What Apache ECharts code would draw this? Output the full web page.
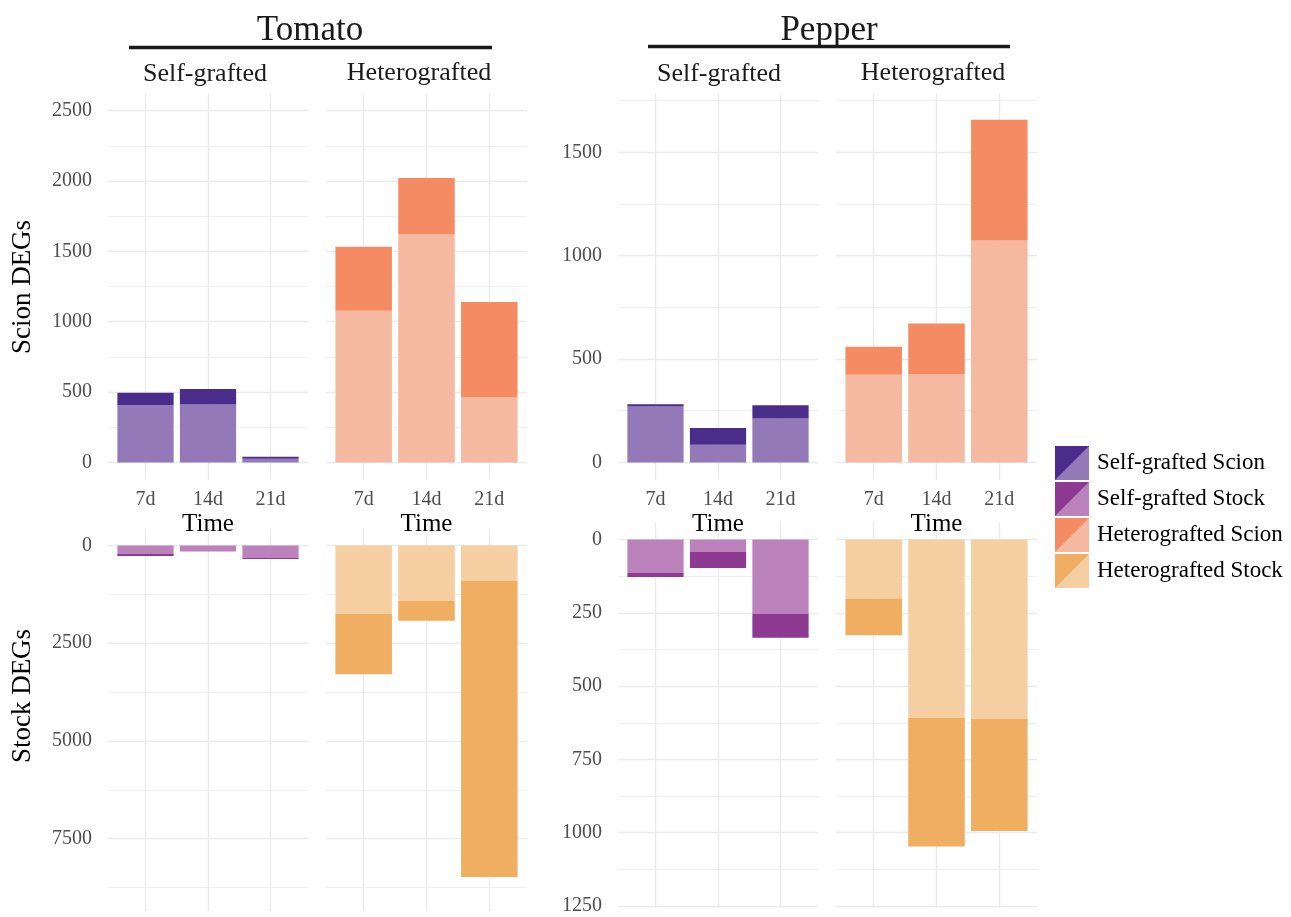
<!DOCTYPE html>
<html>
<head>
<meta charset="utf-8">
<script src="https://cdn.jsdelivr.net/npm/echarts@6/dist/echarts.min.js"></script>
<style>
  html, body { margin: 0; padding: 0; background: #ffffff; }
  #chart { width: 1291px; height: 917px; }
</style>
</head>
<body>
<div id="chart"></div>
<script>
// Sampling times and their positions on the x scale
const timePoints = ['7d', '14d', '21d'];
const timePositions = [1, 2, 3];

// Tomato scion DEGs (pale + deep segments)
const tomatoSelfScionPale = [407, 412, 26];
const tomatoSelfScionDeep = [88, 109, 14];
const tomatoHeteroScionPale = [1077, 1623, 464];
const tomatoHeteroScionDeep = [455, 398, 675];

// Tomato stock DEGs
const tomatoSelfStockPale = [222, 153, 315];
const tomatoSelfStockDeep = [51, 0, 34];
const tomatoHeteroStockPale = [1756, 1423, 903];
const tomatoHeteroStockDeep = [1542, 503, 7575];

// Pepper scion DEGs
const pepperSelfScionPale = [270, 86, 213];
const pepperSelfScionDeep = [11, 80, 63];
const pepperHeteroScionPale = [424, 428, 1073];
const pepperHeteroScionDeep = [136, 244, 585];

// Pepper stock DEGs
const pepperSelfStockPale = [114, 42, 253];
const pepperSelfStockDeep = [14, 55, 82];
const pepperHeteroStockPale = [201, 609, 611];
const pepperHeteroStockDeep = [125, 438, 383];

// Tick labels and minor grid positions
const tomatoScionTicks = [0, 500, 1000, 1500, 2000, 2500];
const tomatoScionMinor = [250, 750, 1250, 1750, 2250];
const tomatoStockTicks = [0, 2500, 5000, 7500];
const tomatoStockMinor = [1250, 3750, 6250, 8750];
const pepperScionTicks = [0, 500, 1000, 1500];
const pepperScionMinor = [250, 750, 1250, 1750];
const pepperStockTicks = [0, 250, 500, 750, 1000, 1250];
const pepperStockMinor = [125, 375, 625, 875, 1125];

const groupNames = ['Self-grafted Scion', 'Self-grafted Stock', 'Heterografted Scion', 'Heterografted Stock'];
const palette = {
  'Self-grafted Scion':  { deep: '#4a2c8a', pale: '#9379b8' },
  'Self-grafted Stock':  { deep: '#8e3a93', pale: '#bc82bb' },
  'Heterografted Scion': { deep: '#f48b63', pale: '#f5b8a0' },
  'Heterografted Stock': { deep: '#f0ae62', pale: '#f5cfa1' }
};

const serif = "'Liberation Serif', 'Times New Roman', serif";
const gridColor = '#ebebeb';
const tickColor = '#4d4d4d';

// Panel layout: [left, top, width, height]; x range 0.4..3.6 around the three time points
const panels = [
  { box: [108, 93, 200, 387], range: [-125, 2625], major: tomatoScionTicks, minor: tomatoScionMinor, labels: true,  inverse: false, time: true,  group: 'Self-grafted Scion',  pale: tomatoSelfScionPale,  deep: tomatoSelfScionDeep },
  { box: [326, 93, 201, 387], range: [-125, 2625], major: tomatoScionTicks, minor: tomatoScionMinor, labels: false, inverse: false, time: true,  group: 'Heterografted Scion', pale: tomatoHeteroScionPale, deep: tomatoHeteroScionDeep },
  { box: [618, 93, 200, 387], range: [-85, 1787],  major: pepperScionTicks, minor: pepperScionMinor, labels: true,  inverse: false, time: true,  group: 'Self-grafted Scion',  pale: pepperSelfScionPale,  deep: pepperSelfScionDeep },
  { box: [836, 93, 201, 387], range: [-85, 1787],  major: pepperScionTicks, minor: pepperScionMinor, labels: false, inverse: false, time: true,  group: 'Heterografted Scion', pale: pepperHeteroScionPale, deep: pepperHeteroScionDeep },
  { box: [108, 528, 200, 383], range: [-445, 9350], major: tomatoStockTicks, minor: tomatoStockMinor, labels: true,  inverse: true, time: false, group: 'Self-grafted Stock',  pale: tomatoSelfStockPale,  deep: tomatoSelfStockDeep },
  { box: [326, 528, 201, 383], range: [-445, 9350], major: tomatoStockTicks, minor: tomatoStockMinor, labels: false, inverse: true, time: false, group: 'Heterografted Stock', pale: tomatoHeteroStockPale, deep: tomatoHeteroStockDeep },
  { box: [618, 522, 200, 386], range: [-60, 1257],  major: pepperStockTicks, minor: pepperStockMinor, labels: true,  inverse: true, time: false, group: 'Self-grafted Stock',  pale: pepperSelfStockPale,  deep: pepperSelfStockDeep },
  { box: [836, 522, 201, 386], range: [-60, 1257],  major: pepperStockTicks, minor: pepperStockMinor, labels: false, inverse: true, time: false, group: 'Heterografted Stock', pale: pepperHeteroStockPale, deep: pepperHeteroStockDeep }
];

const XMIN = 0.4, XMAX = 3.6;
const grid = [], xAxis = [], yAxis = [], series = [];

panels.forEach((p, i) => {
  const [left, top, width, height] = p.box;
  const unit = width / (XMAX - XMIN);

  // background grid: gridlines, tick labels, axis names
  const gi = grid.length;
  grid.push({ left, top, width, height });
  xAxis.push({
    type: 'value', gridIndex: gi, min: XMIN, max: XMAX,
    axisLine: { show: false },
    axisTick: { show: false, customValues: timePositions },
    axisLabel: {
      show: p.time, customValues: timePositions, margin: 10,
      color: tickColor, fontSize: 20, fontFamily: serif,
      formatter: v => timePoints[timePositions.indexOf(v)]
    },
    splitLine: { show: true, lineStyle: { color: gridColor, width: 1.4 } },
    name: p.time ? 'Time' : '', nameLocation: 'middle', nameGap: 32,
    nameTextStyle: { color: '#000', fontSize: 25, fontFamily: serif }
  });
  yAxis.push({
    type: 'value', gridIndex: gi, min: p.range[0], max: p.range[1], inverse: p.inverse,
    axisLine: { show: false },
    axisTick: { show: false, customValues: p.major },
    axisLabel: { show: p.labels, customValues: p.major, margin: 16, color: tickColor, fontSize: 20, fontFamily: serif, formatter: v => String(v) },
    splitLine: { show: true, lineStyle: { color: gridColor, width: 1.4 } }
  });
  xAxis.push({ type: 'value', gridIndex: gi, min: XMIN, max: XMAX, show: false });
  yAxis.push({
    type: 'value', gridIndex: gi, min: p.range[0], max: p.range[1], inverse: p.inverse,
    axisLine: { show: false },
    axisTick: { show: false, customValues: p.minor },
    axisLabel: { show: false, customValues: p.minor },
    splitLine: { show: true, lineStyle: { color: '#f0f0f0', width: 1 } }
  });

  // bar grid: one band per time point, inset to the 0.5..3.5 span
  const bi = grid.length;
  grid.push({ left: left + (0.5 - XMIN) * unit, top, width: 3 * unit, height });
  const bx = xAxis.length;
  xAxis.push({ type: 'category', gridIndex: bi, data: timePoints, show: false });
  const by = yAxis.length;
  yAxis.push({ type: 'value', gridIndex: bi, min: p.range[0], max: p.range[1], inverse: p.inverse, show: false, splitLine: { show: false } });

  const colors = palette[p.group];
  [['pale', p.pale], ['deep', p.deep]].forEach(([shade, values]) => {
    series.push({
      type: 'bar', name: p.group, xAxisIndex: bx, yAxisIndex: by,
      stack: 'panel' + i, barWidth: '90%',
      itemStyle: { color: colors[shade] },
      emphasis: { disabled: true },
      data: values
    });
  });
});

const legendBase = {
  orient: 'vertical', left: 1050, top: 441,
  itemWidth: 34, itemHeight: 34, itemGap: 2,
  selectedMode: false
};

const option = {
  backgroundColor: '#ffffff',
  animation: false,
  grid, xAxis, yAxis, series,
  legend: [
    Object.assign({}, legendBase, {
      icon: 'rect',
      textStyle: { color: '#000', fontSize: 23, fontFamily: serif, padding: [0, 0, 0, 3] },
      data: groupNames.map(n => ({ name: n, itemStyle: { color: palette[n].pale } }))
    }),
    Object.assign({}, legendBase, {
      icon: 'path://M0 0L1 0L0 1Z',
      textStyle: { color: 'rgba(0,0,0,0)', fontSize: 23, fontFamily: serif, padding: [0, 0, 0, 3] },
      data: groupNames.map(n => ({ name: n, itemStyle: { color: palette[n].deep } }))
    })
  ],
  graphic: [
    { type: 'text', x: 310, y: 31, style: { text: 'Tomato', align: 'center', verticalAlign: 'middle', fontSize: 35, fontFamily: serif, fill: '#1a1a1a' } },
    { type: 'text', x: 829, y: 31, style: { text: 'Pepper', align: 'center', verticalAlign: 'middle', fontSize: 35, fontFamily: serif, fill: '#1a1a1a' } },
    { type: 'line', shape: { x1: 129, y1: 47.5, x2: 492, y2: 47.5 }, style: { stroke: '#1a1a1a', lineWidth: 3.5 } },
    { type: 'line', shape: { x1: 648, y1: 46.5, x2: 1010, y2: 46.5 }, style: { stroke: '#1a1a1a', lineWidth: 3.5 } },
    { type: 'text', x: 205, y: 74, style: { text: 'Self-grafted', align: 'center', verticalAlign: 'middle', fontSize: 26, fontFamily: serif, fill: '#1a1a1a' } },
    { type: 'text', x: 419, y: 73, style: { text: 'Heterografted', align: 'center', verticalAlign: 'middle', fontSize: 26, fontFamily: serif, fill: '#1a1a1a' } },
    { type: 'text', x: 719, y: 74, style: { text: 'Self-grafted', align: 'center', verticalAlign: 'middle', fontSize: 26, fontFamily: serif, fill: '#1a1a1a' } },
    { type: 'text', x: 933, y: 73, style: { text: 'Heterografted', align: 'center', verticalAlign: 'middle', fontSize: 26, fontFamily: serif, fill: '#1a1a1a' } },
    { type: 'text', x: 23, y: 287, rotation: Math.PI / 2, style: { text: 'Scion DEGs', align: 'center', verticalAlign: 'middle', fontSize: 27, fontFamily: serif, fill: '#000' } },
    { type: 'text', x: 23, y: 696, rotation: Math.PI / 2, style: { text: 'Stock DEGs', align: 'center', verticalAlign: 'middle', fontSize: 27, fontFamily: serif, fill: '#000' } }
  ]
};

const chart = echarts.init(document.getElementById('chart'), null, { renderer: 'canvas' });
chart.setOption(option);
</script>
</body>
</html>
